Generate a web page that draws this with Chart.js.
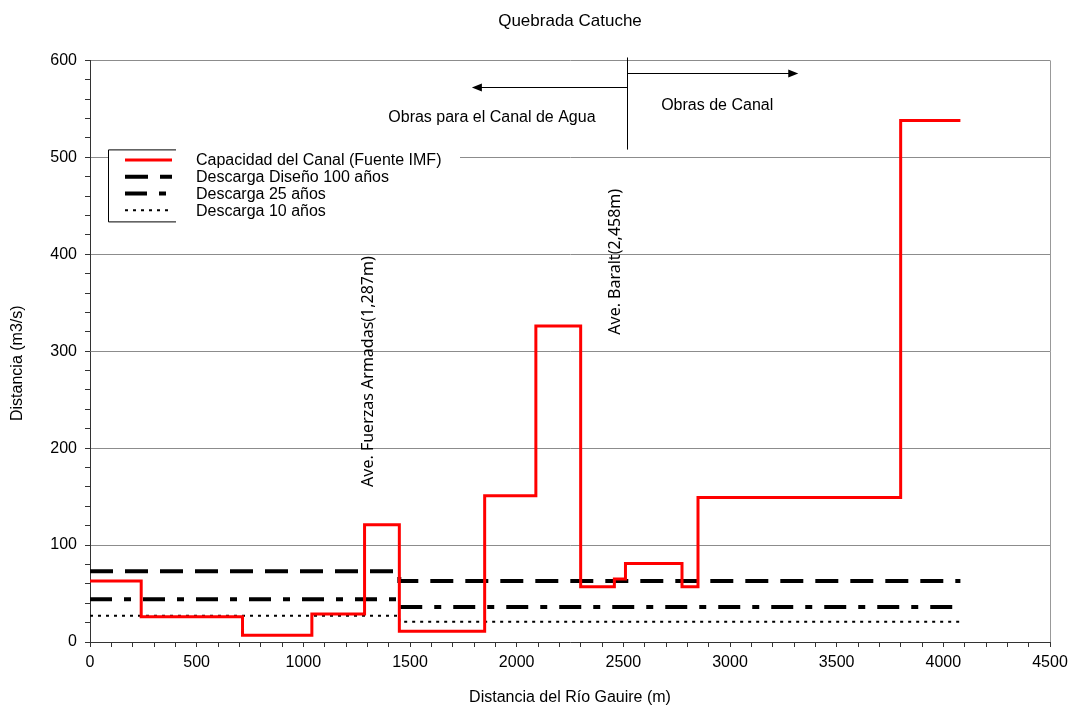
<!DOCTYPE html>
<html>
<head>
<meta charset="utf-8">
<script src="https://cdn.jsdelivr.net/npm/chart.js@4.4.1/dist/chart.umd.min.js"></script>
<style>
  html, body { margin: 0; padding: 0; background: #fff; }
  #wrap { width: 1074px; height: 710px; }
</style>
</head>
<body>
<div id="wrap"><canvas id="catucheChart" width="1074" height="710"></canvas></div>
<script>
// Datos (distancia en m, caudal en m3/s)
const capacidadX = [0, 240, 715, 1040, 1287, 1450, 1850, 2090, 2300, 2458, 2510, 2775, 2850, 3800, 4080];
const capacidadY = [63, 26, 7, 29, 121, 11, 151, 326, 57, 65, 81, 57, 149, 538, 538];

const descargaX = [0, 1450, 4080];
const descarga100 = [73, 63, 63];
const descarga25 = [44, 36, 36];
const descarga10 = [27, 21, 21];

const xTicks = [0, 500, 1000, 1500, 2000, 2500, 3000, 3500, 4000, 4500];
const yTicks = [0, 100, 200, 300, 400, 500, 600];

const seriesLabels = [
  'Capacidad del Canal (Fuente IMF)',
  'Descarga Diseño 100 años',
  'Descarga 25 años',
  'Descarga 10 años',
];

// Anotaciones (en coordenadas de datos)
const divisionX = 2515;
const divisionTop = 603;
const divisionBottom = 508;
const flechaDerecha = { x: 3320, y: 587 };
const flechaIzquierda = { x: 1790, y: 573 };
const textoObrasCanal = { text: 'Obras de Canal', x: 2940, y: 553 };
const textoObrasAgua = { text: 'Obras para el Canal de Agua', x: 1884, y: 541 };
const avenidas = [
  { text: 'Ave. Fuerzas Armadas(1,287m)', x: 1303, y: 160 },
  { text: 'Ave. Baralt(2,458m)', x: 2461, y: 317 },
];
const tituloY = 'Distancia (m3/s)';

const FONT = "'Liberation Sans', Arial, sans-serif";

const toPoints = (xs, ys) => xs.map((x, i) => ({ x: x, y: ys[i] }));

const data = {
  datasets: [
    {
      label: seriesLabels[0],
      data: toPoints(capacidadX, capacidadY),
      borderColor: '#ff0000',
      borderWidth: 3,
      stepped: 'before',
    },
    {
      label: seriesLabels[1],
      data: toPoints(descargaX, descarga100),
      borderColor: '#000000',
      borderWidth: 4,
      borderDash: [23, 12],
      stepped: 'before',
    },
    {
      label: seriesLabels[2],
      data: toPoints(descargaX, descarga25),
      borderColor: '#000000',
      borderWidth: 4,
      borderDash: [22, 12, 7, 12],
      stepped: 'before',
    },
    {
      label: seriesLabels[3],
      data: toPoints(descargaX, descarga10),
      borderColor: '#000000',
      borderWidth: 2,
      borderDash: [3, 5],
      stepped: 'before',
    },
  ],
};

// Leyenda, marco y anotaciones dibujadas a mano
const extras = {
  id: 'extras',
  afterDraw(chart) {
    const { ctx, chartArea, scales } = chart;
    const xs = scales.x;
    const ys = scales.y;
    ctx.save();

    // marco derecho
    ctx.strokeStyle = '#999';
    ctx.lineWidth = 1;
    ctx.beginPath();
    ctx.moveTo(chartArea.right + 0.5, chartArea.top);
    ctx.lineTo(chartArea.right + 0.5, chartArea.bottom);
    ctx.stroke();

    // título del eje Y
    ctx.fillStyle = '#000';
    ctx.font = '16px ' + FONT;
    ctx.textAlign = 'center';
    ctx.textBaseline = 'middle';
    ctx.save();
    ctx.translate(18, (chartArea.top + chartArea.bottom) / 2 + 12);
    ctx.rotate(-Math.PI / 2);
    ctx.fillText(tituloY, 0, 0);
    ctx.restore();

    // línea divisoria y flechas
    const dx = Math.round(xs.getPixelForValue(divisionX)) + 0.5;
    ctx.strokeStyle = '#000';
    ctx.fillStyle = '#000';
    ctx.beginPath();
    ctx.moveTo(dx, ys.getPixelForValue(divisionTop));
    ctx.lineTo(dx, ys.getPixelForValue(divisionBottom));
    ctx.stroke();

    const arrow = (x0, x1, y) => {
      const py = Math.round(ys.getPixelForValue(y)) + 0.5;
      const dir = Math.sign(x1 - x0);
      ctx.beginPath();
      ctx.moveTo(x0, py);
      ctx.lineTo(x1 - dir * 8, py);
      ctx.stroke();
      ctx.beginPath();
      ctx.moveTo(x1, py);
      ctx.lineTo(x1 - dir * 10, py - 4);
      ctx.lineTo(x1 - dir * 10, py + 4);
      ctx.closePath();
      ctx.fill();
    };
    arrow(dx, xs.getPixelForValue(flechaDerecha.x), flechaDerecha.y);
    arrow(dx, xs.getPixelForValue(flechaIzquierda.x), flechaIzquierda.y);

    [textoObrasCanal, textoObrasAgua].forEach((t) => {
      ctx.fillText(t.text, xs.getPixelForValue(t.x), ys.getPixelForValue(t.y));
    });

    // textos verticales de las avenidas
    ctx.font = "16px 'Noto Sans', " + FONT;
    ctx.textAlign = 'left';
    avenidas.forEach((a) => {
      ctx.save();
      ctx.translate(xs.getPixelForValue(a.x), ys.getPixelForValue(a.y));
      ctx.rotate(-Math.PI / 2);
      ctx.fillText(a.text, 0, 0);
      ctx.restore();
    });

    // leyenda
    const lx = chartArea.left + 18;
    const ly = chartArea.top + 89;
    const lh = 72;
    ctx.fillStyle = '#fff';
    ctx.fillRect(lx, ly, 352, lh);
    ctx.strokeStyle = '#000';
    ctx.lineWidth = 1;
    ctx.beginPath();
    ctx.moveTo(lx + 68, ly + 0.5);
    ctx.lineTo(lx + 0.5, ly + 0.5);
    ctx.lineTo(lx + 0.5, ly + lh + 0.5);
    ctx.lineTo(lx + 68, ly + lh + 0.5);
    ctx.stroke();

    ctx.font = '16px ' + FONT;
    ctx.textAlign = 'left';
    ctx.textBaseline = 'middle';
    chart.data.datasets.forEach((ds, i) => {
      const ry = ly + 10.5 + i * 16.8;
      ctx.save();
      ctx.strokeStyle = ds.borderColor;
      ctx.lineWidth = ds.borderWidth;
      ctx.setLineDash(ds.borderDash || []);
      ctx.beginPath();
      ctx.moveTo(lx + 17, ry);
      ctx.lineTo(lx + 64, ry);
      ctx.stroke();
      ctx.restore();
      ctx.fillStyle = '#000';
      ctx.fillText(ds.label, lx + 88, ry + 1);
    });

    ctx.restore();
  },
};

const config = {
  type: 'line',
  data: data,
  plugins: [extras],
  options: {
    responsive: false,
    animation: false,
    events: [],
    layout: { padding: { left: 0, right: 24, top: 0, bottom: 0 } },
    elements: { point: { radius: 0 }, line: { tension: 0 } },
    scales: {
      x: {
        type: 'linear',
        min: 0,
        max: 4500,
        afterFit: (scale) => { scale.height = 68; },
        afterBuildTicks: (scale) => {
          const t = [];
          for (let v = 0; v <= 4500; v += 100) t.push({ value: v });
          scale.ticks = t;
        },
        ticks: {
          autoSkip: false,
          maxRotation: 0,
          padding: 6,
          color: '#000',
          font: { family: FONT, size: 16 },
          callback: (v) => (xTicks.includes(v) ? String(v) : ''),
        },
        grid: {
          drawOnChartArea: false,
          tickLength: 5,
          tickColor: '#333',
        },
        border: { color: '#333', width: 1 },
        title: {
          display: true,
          text: 'Distancia del Río Gauire (m)',
          color: '#000',
          font: { family: FONT, size: 16 },
          padding: { top: 0, bottom: 3 },
        },
      },
      y: {
        min: 0,
        max: 600,
        afterFit: (scale) => { scale.width = 90; },
        afterBuildTicks: (scale) => {
          const t = [];
          for (let v = 0; v <= 600; v += 20) t.push({ value: v });
          scale.ticks = t;
        },
        ticks: {
          autoSkip: false,
          padding: 8,
          color: '#000',
          font: { family: FONT, size: 16 },
          callback: (v) => (yTicks.includes(v) ? String(v) : ''),
        },
        grid: {
          color: (c) => (c.tick && c.tick.value % 100 === 0 && c.tick.value > 0 ? '#8c8c8c' : 'rgba(0,0,0,0)'),
          tickLength: 5,
          tickColor: '#333',
        },
        border: { color: '#333', width: 1 },
      },
    },
    plugins: {
      legend: { display: false },
      tooltip: { enabled: false },
      title: {
        display: true,
        fullSize: false,
        text: 'Quebrada Catuche',
        color: '#000',
        font: { family: FONT, size: 17, weight: 'normal' },
        padding: { top: 11, bottom: 29 },
      },
    },
  },
};

const ctx = document.getElementById('catucheChart').getContext('2d');
new Chart(ctx, config);
</script>
</body>
</html>
